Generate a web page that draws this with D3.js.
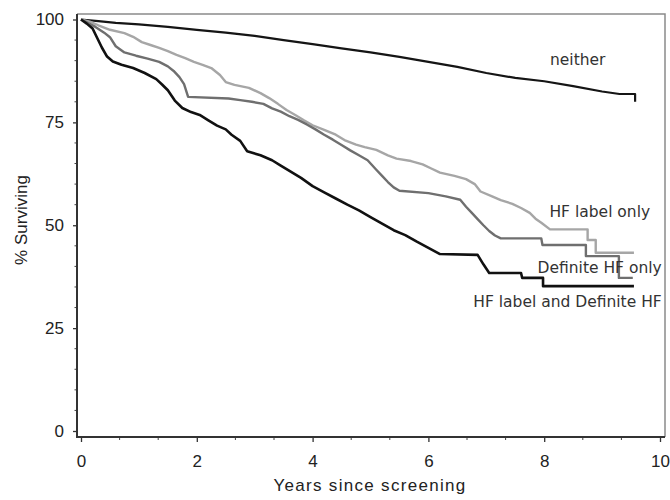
<!DOCTYPE html>
<html>
<head>
<meta charset="utf-8">
<script src="https://cdn.jsdelivr.net/npm/d3@7"></script>
<style>
  body { margin: 0; background: #fff; }
  svg { display: block; }
  .tick text { font-family: "Liberation Sans", Arial, sans-serif; font-size: 17px; fill: #222; }
  .curve-label { font-family: "DejaVu Sans", Verdana, sans-serif; font-size: 15.5px; fill: #333; }
</style>
</head>
<body>
<svg id="chart" width="670" height="500"></svg>
<script>
// survival curves (years since screening, % surviving)
// repeated years mark the big vertical steps near the end of follow-up
const neitherT = [0, 0.3, 0.6, 1.0, 1.5, 2.0, 2.5, 3.0, 3.5, 4.0, 4.5, 5.0, 5.5, 6.0, 6.5, 7.0, 7.5, 8.0, 8.5, 9.0, 9.3, 9.57, 9.57]
const neitherS = [100, 99.6, 99.2, 98.8, 98.2, 97.5, 96.8, 96.0, 95.0, 94.0, 93.0, 92.0, 90.9, 89.7, 88.5, 87.0, 85.8, 85.0, 83.8, 82.5, 81.9, 81.9, 80.0]

const labelOnlyT = [0, 0.15, 0.3, 0.5, 0.75, 0.9, 1.05, 1.2, 1.35, 1.5, 1.65, 1.8, 1.95, 2.1, 2.25, 2.4, 2.5, 2.65, 2.9, 3.1, 3.25, 3.4, 3.55, 3.7, 3.85, 4.0, 4.2, 4.4, 4.55, 4.75, 4.9, 5.1, 5.3, 5.45, 5.7, 5.9, 6.05, 6.2, 6.45, 6.65, 6.8, 6.9, 7.1, 7.25, 7.45, 7.6, 7.75, 7.85, 7.95, 8.1, 8.75, 8.75, 8.89, 8.89, 9.55]
const labelOnlyS = [100, 99.5, 98.6, 97.5, 96.7, 95.8, 94.5, 93.8, 93.1, 92.3, 91.4, 90.6, 89.7, 89.0, 88.2, 86.5, 84.8, 84.1, 83.4, 82.1, 80.9, 79.5, 78.0, 76.8, 75.5, 74.3, 73.2, 72.0, 70.7, 69.6, 69.0, 68.3, 67.0, 66.2, 65.6, 64.8, 63.8, 62.8, 62.0, 61.2, 60.0, 58.2, 57.0, 56.1, 55.2, 54.2, 53.0, 51.6, 50.6, 49.0, 49.0, 46.4, 46.4, 43.3, 43.3]

const definiteT = [0, 0.1, 0.25, 0.4, 0.5, 0.6, 0.75, 0.95, 1.15, 1.35, 1.5, 1.6, 1.7, 1.78, 1.85, 2.55, 2.75, 2.95, 3.15, 3.3, 3.45, 3.6, 3.75, 3.9, 4.05, 4.2, 4.35, 4.5, 4.65, 4.8, 4.95, 5.1, 5.2, 5.3, 5.4, 5.5, 6.0, 6.3, 6.55, 6.65, 6.75, 6.85, 6.95, 7.05, 7.15, 7.25, 7.95, 7.97, 8.72, 8.72, 9.29, 9.29, 9.53]
const definiteS = [100, 99.3, 98.2, 96.8, 95.7, 93.5, 92.0, 91.2, 90.5, 89.7, 88.6, 87.5, 86.0, 84.3, 81.2, 80.8, 80.4, 80.0, 79.5, 78.4, 77.6, 76.5, 75.6, 74.5, 73.3, 72.0, 70.8, 69.5, 68.2, 67.0, 65.8, 63.5, 62.0, 60.5, 59.2, 58.4, 57.8, 57.0, 56.2, 54.5, 53.0, 51.5, 50.0, 48.6, 47.5, 46.8, 46.8, 45.2, 45.2, 42.5, 42.5, 37.2, 37.2]

const bothT = [0, 0.1, 0.2, 0.28, 0.36, 0.45, 0.55, 0.7, 0.9, 1.1, 1.3, 1.4, 1.5, 1.62, 1.75, 1.9, 2.05, 2.2, 2.35, 2.5, 2.6, 2.75, 2.87, 3.1, 3.3, 3.45, 3.6, 3.8, 4.0, 4.2, 4.4, 4.6, 4.8, 5.0, 5.2, 5.4, 5.6, 5.8, 6.0, 6.2, 6.85, 6.95, 7.05, 7.6, 7.62, 7.98, 7.98, 9.55]
const bothS = [100, 99.0, 97.8, 95.5, 93.2, 91.0, 89.8, 89.0, 88.2, 87.0, 85.5, 84.2, 82.8, 80.3, 78.5, 77.5, 76.8, 75.5, 74.2, 73.3, 72.0, 70.5, 68.0, 67.0, 65.8, 64.5, 63.2, 61.5, 59.5, 58.0, 56.5, 55.0, 53.6, 52.0, 50.4, 48.8, 47.6, 46.0, 44.5, 43.0, 42.8, 40.5, 38.4, 38.4, 37.2, 37.2, 35.2, 35.2]

const xTicks = [0, 2, 4, 6, 8, 10]
const yTicks = [0, 25, 50, 75, 100]

const svg = d3.select("#chart")

const x = d3.scaleLinear().domain([0, 10]).range([81, 660])
const y = d3.scaleLinear().domain([0, 100]).range([431, 19.5])

const frame = { left: 77, right: 665, top: 14, bottom: 437 }

// minor ticks (every 2/3 year, every 5 %)
const xMinor = d3.range(2 / 3, 10, 2 / 3).filter((v) => Math.abs(v - Math.round(v / 2) * 2) > 0.01)
const yMinor = d3.range(5, 100, 5).filter((v) => v % 25 !== 0)

svg.append("g")
  .selectAll("line")
  .data(xMinor)
  .join("line")
  .attr("x1", (d) => x(d)).attr("x2", (d) => x(d))
  .attr("y1", frame.bottom).attr("y2", frame.bottom + 3)
  .attr("stroke", "#444")

svg.append("g")
  .selectAll("line")
  .data(yMinor)
  .join("line")
  .attr("x1", frame.left - 2.5).attr("x2", frame.left)
  .attr("y1", (d) => y(d)).attr("y2", (d) => y(d))
  .attr("stroke", "#444")

const xAxis = svg.append("g")
  .attr("transform", `translate(0,${frame.bottom})`)
  .call(d3.axisBottom(x).tickValues(xTicks).tickSize(5).tickPadding(13).tickFormat(d3.format("d")))
xAxis.select(".domain").remove()
xAxis.selectAll("line").attr("stroke", "#333").attr("stroke-width", 1.3)

const yAxis = svg.append("g")
  .attr("transform", `translate(${frame.left},0)`)
  .call(d3.axisLeft(y).tickValues(yTicks).tickSize(4).tickPadding(9).tickFormat(d3.format("d")))
yAxis.select(".domain").remove()
yAxis.selectAll("line").attr("stroke", "#333").attr("stroke-width", 1.3)

// frame: light top/right, dark axes
svg.append("path")
  .attr("d", `M${frame.left},${frame.top}H${frame.right}V${frame.bottom}`)
  .attr("fill", "none")
  .attr("stroke", "#8a8a8a")
  .attr("stroke-width", 1.5)

svg.append("path")
  .attr("d", `M${frame.left},${frame.top}V${frame.bottom}H${frame.right}`)
  .attr("fill", "none")
  .attr("stroke", "#333")
  .attr("stroke-width", 2)

const series = [
  { name: "neither", t: neitherT, s: neitherS, color: "#151515", width: 2.2 },
  { name: "labelOnly", t: labelOnlyT, s: labelOnlyS, color: "#a6a6a6", width: 2.4 },
  { name: "definite", t: definiteT, s: definiteS, color: "#6f6f6f", width: 2.4 },
  { name: "both", t: bothT, s: bothS, color: "#111", width: 2.6 },
]

const line = d3.line()
  .x((d) => x(d[0]))
  .y((d) => y(d[1]))

svg.append("g")
  .selectAll("path")
  .data(series)
  .join("path")
  .attr("class", (d) => `curve curve-${d.name}`)
  .attr("fill", "none")
  .attr("stroke", (d) => d.color)
  .attr("stroke-width", (d) => d.width)
  .attr("stroke-linejoin", "round")
  .attr("d", (d) => line(d.t.map((t, i) => [t, d.s[i]])))

// curve labels
const labels = [
  { text: "neither", at: [8.1, 88.9], anchor: "start" },
  { text: "HF label only", at: [9.83, 52], anchor: "end" },
  { text: "Definite HF only", at: [10.03, 38.4], anchor: "end" },
  { text: "HF label and Definite HF", at: [10.03, 30.1], anchor: "end" },
]

svg.append("g")
  .selectAll("text")
  .data(labels)
  .join("text")
  .attr("class", "curve-label")
  .attr("x", (d) => x(d.at[0]))
  .attr("y", (d) => y(d.at[1]))
  .attr("text-anchor", (d) => d.anchor)
  .text((d) => d.text)

// axis titles
svg.append("text")
  .attr("x", 370)
  .attr("y", 491)
  .attr("text-anchor", "middle")
  .attr("font-family", "Liberation Sans, Arial, sans-serif")
  .attr("font-size", "17px")
  .attr("letter-spacing", "1.3px")
  .attr("fill", "#222")
  .text("Years since screening")

svg.append("text")
  .attr("transform", "translate(27,220) rotate(-90)")
  .attr("text-anchor", "middle")
  .attr("font-family", "Liberation Sans, Arial, sans-serif")
  .attr("font-size", "17px")
  .attr("fill", "#222")
  .text("% Surviving")
</script>
</body>
</html>
